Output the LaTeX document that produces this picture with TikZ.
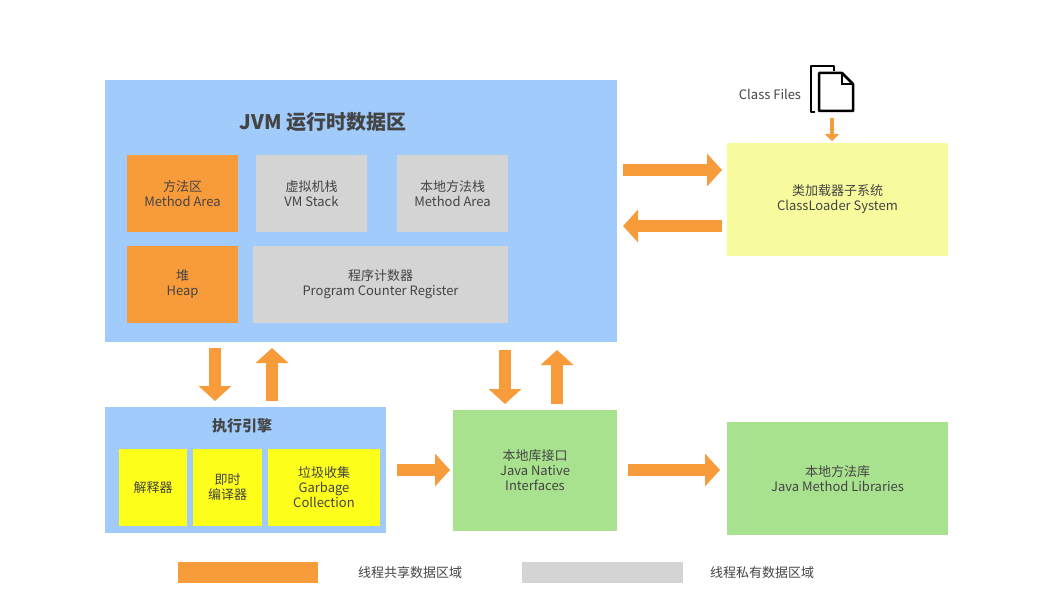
\documentclass[tikz,border=0pt]{standalone}
\usepackage{fontspec}
\setmainfont{Noto Sans CJK SC}
\usetikzlibrary{arrows.meta}
\definecolor{jvmblue}{HTML}{A0CBFB}
\definecolor{shared}{HTML}{F89B3A}
\definecolor{private}{HTML}{D4D4D4}
\definecolor{loader}{HTML}{F8FA9E}
\definecolor{engine}{HTML}{FFFF1C}
\definecolor{native}{HTML}{A9E28F}
\definecolor{txt}{HTML}{444444}
\tikzset{
  area/.style={fill=jvmblue, draw=none},
  cell/.style={draw=none, text=txt, font=\fontsize{13}{15}\selectfont, align=center, inner sep=0pt},
  bigarrow/.style={draw=shared, line width=12pt, -{Triangle[length=15pt,width=32pt]}},
  smallarrow/.style={draw=shared, line width=4pt, -{Triangle[length=7pt,width=14pt]}}
}
\begin{document}
\begin{tikzpicture}[x=1pt,y=-1pt]
  \useasboundingbox (0,0) rectangle (1051,615);
  % runtime data area
  \fill[area] (105,80) rectangle (617,342);
  \node[font=\fontsize{20}{22}\selectfont\bfseries, text=txt] (title) at (323,122) {JVM 运行时数据区};
  \fill[shared] (127,155) rectangle (238,232);
  \node[cell] (method) at (182.5,193.5) {方法区\\Method Area};
  \fill[private] (256,155) rectangle (367,232);
  \node[cell] (vmstack) at (311.5,193.5) {虚拟机栈\\VM Stack};
  \fill[private] (397,155) rectangle (508,232);
  \node[cell] (nstack) at (452.5,193.5) {本地方法栈\\Method Area};
  \fill[shared] (127,246) rectangle (238,323);
  \node[cell] (heap) at (182.5,284.5) {堆\\Heap};
  \fill[private] (253,246) rectangle (508,323);
  \node[cell] (pc) at (380.5,284.5) {程序计数器\\Program Counter Register};
  % class files
  \node[cell] (cfiles) at (770,94) {Class Files};
  \draw[line width=2.5pt, line join=round] (815,112) -- (811,112) -- (811,66) -- (834,66) -- (834,71);
  \draw[line width=2.5pt, line join=round] (819,73) -- (842,73) -- (853,84) -- (853,111) -- (819,111) -- cycle;
  \draw[line width=1.5pt] (842,73) -- (842,84) -- (853,84);
  \coordinate (cf) at (832,118);
  % class loader
  \fill[loader] (727,143) rectangle (948,256);
  \node[cell] (loader) at (837.5,199.5) {类加载器子系统\\ClassLoader System};
  \draw[smallarrow] (cf) -- (832,141);
  \draw[bigarrow] (623,170) -- (722,170);
  \draw[bigarrow] (722,226) -- (623,226);
  % vertical arrows
  \draw[bigarrow] (215,348) -- (215,401);
  \draw[bigarrow] (272,401) -- (272,348);
  \draw[bigarrow] (505,350) -- (505,404);
  \draw[bigarrow] (557,404) -- (557,350);
  % execution engine
  \fill[area] (105,407) rectangle (386,533);
  \node[font=\fontsize{15}{17}\selectfont\bfseries, text=txt] (eng) at (242,426) {执行引擎};
  \fill[engine] (119,449) rectangle (187,526);
  \node[cell] (interp) at (153,487.5) {解释器};
  \fill[engine] (193,449) rectangle (262,526);
  \node[cell] (jit) at (227.5,487.5) {即时\\编译器};
  \fill[engine] (268,449) rectangle (380,526);
  \node[cell] (gc) at (324,487.5) {垃圾收集\\Garbage\\Collection};
  % native
  \fill[native] (453,410) rectangle (617,531);
  \node[cell] (jni) at (535,470.5) {本地库接口\\Java Native\\Interfaces};
  \fill[native] (727,422) rectangle (948,535);
  \node[cell] (lib) at (837.5,478.5) {本地方法库\\Java Method Libraries};
  \draw[bigarrow] (397,470) -- (450,470);
  \draw[bigarrow] (628,470) -- (720,470);
  % legend
  \fill[shared] (178,562) rectangle (318,583);
  \node[cell, anchor=west] (lshared) at (358,573) {线程共享数据区域};
  \fill[private] (522,562) rectangle (683,583);
  \node[cell, anchor=west] (lprivate) at (710,573) {线程私有数据区域};
\end{tikzpicture}
\end{document}
